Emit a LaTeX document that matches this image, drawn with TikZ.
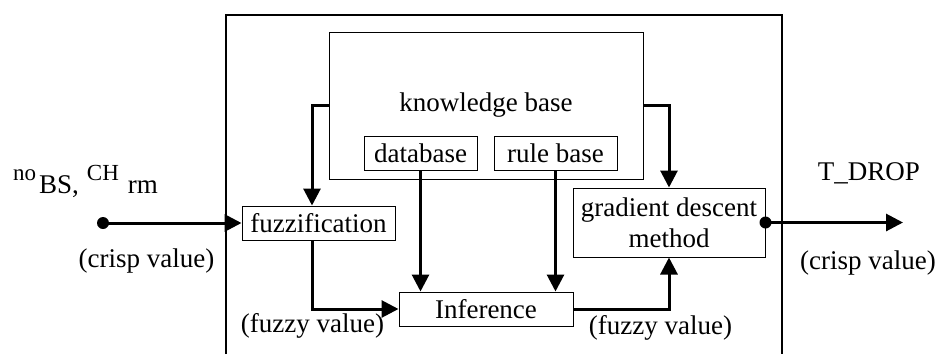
\documentclass[tikz,border=0pt]{standalone}
\usepackage{fontspec}
\setmainfont{Liberation Serif}
\usetikzlibrary{arrows.meta}
\begin{document}
\begin{tikzpicture}[x=1pt,y=-1pt,
  font=\fontsize{27}{31}\selectfont,
  box/.style={draw,line width=1pt,inner sep=0pt,align=center},
  flow/.style={line width=3pt,-{Triangle[length=17pt,width=17pt]}},
  lbl/.style={inner sep=0pt}]
\useasboundingbox (0,0) rectangle (938,354);
% outer frame (open at the bottom)
\draw[line width=1.2pt] (226,354) -- (226,15) -- (782,15) -- (782,354);
% boxes
\node[box,minimum width=314pt,minimum height=147pt] (kb) at (486,105.5) {knowledge base};
\node[box,minimum width=113pt,minimum height=34pt] (db) at (420.5,153) {database};
\node[box,minimum width=123pt,minimum height=34pt] (rb) at (555.5,153) {rule base};
\node[box,minimum width=153pt,minimum height=34pt] (fuzz) at (318.5,223) {fuzzification};
\node[box,minimum width=174pt,minimum height=34pt] (inf) at (486,309) {Inference};
\node[box,minimum width=192pt,minimum height=69pt] (gd) at (669,222.5) {gradient descent\\method};
% input / output
\coordinate (in) at (103,223);
\coordinate (out) at (903,222.5);
\fill (in) circle (6pt);
\fill (gd.east) circle (6pt);
\draw[flow] (in) -- (fuzz.west);
\draw[flow] (gd.east) -- (out);
% internal connectors
\draw[flow] (kb.west) -| ([xshift=-6.5pt]fuzz.north);
\draw[flow] ([xshift=-6.5pt]fuzz.south) |- (inf.west);
\draw[flow] (db.south) -- (db.south |- inf.north);
\draw[flow] (rb.south) -- (rb.south |- inf.north);
\draw[flow] (inf.east) -| (gd.south);
\draw[flow] (kb.east) -| (gd.north);
% labels
\node[lbl,anchor=base west] (inlbl) at (13,193) {\raisebox{13pt}{\fontsize{23}{23}\selectfont no}\hspace{3pt}BS,\hspace{8pt}\raisebox{13pt}{\fontsize{23}{23}\selectfont CH}\hspace{9pt}rm};
\node[lbl] (crispin) at (146.5,261) {(crisp value)};
\node[lbl] (fuzzyl) at (312.5,326) {(fuzzy value)};
\node[lbl] (fuzzyr) at (660.5,328) {(fuzzy value)};
\node[lbl,anchor=base] (tdrop) at (869,180) {T\_DROP};
\node[lbl] (crispout) at (868,263) {(crisp value)};
\end{tikzpicture}
\end{document}
